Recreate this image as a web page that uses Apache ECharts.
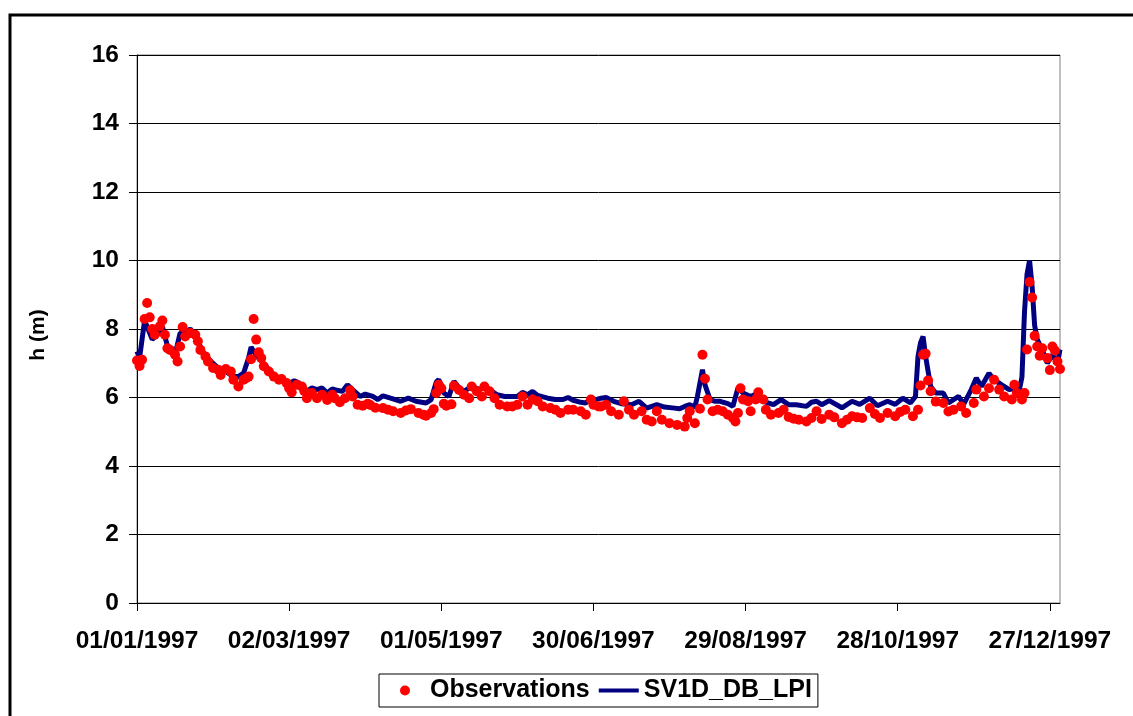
<!DOCTYPE html>
<html><head><meta charset="utf-8">
<script src="https://cdn.jsdelivr.net/npm/echarts@6/dist/echarts.min.js"></script>
<style>html,body{margin:0;padding:0;background:#fff}#c{width:1133px;height:716px}</style>
</head><body><div id="c"></div>
<script>
// Day offsets from 01/01/1997
const simDays = [0,1,3,6,8,10,12,14,15,17,19,21,23,25,27,30,32,35,38,40,42,44,45,46,48,51,54,56,59,62,64,67,69,71,73,75,77,79,81,83,85,88,90,93,95,97,100,104,107,110,114,116,117,118,119,121,123,125,127,129,132,135,137,139,142,145,148,150,152,154,156,158,162,165,168,170,172,175,177,179,181,183,185,188,191,195,198,201,205,208,212,214,216,218,220,221,223,224,226,228,230,233,235,237,239,242,245,247,251,254,257,260,264,266,268,270,273,278,282,285,289,292,296,299,302,305,307,308,309,310,311,313,315,318,320,324,326,329,331,333,336,338,341,344,347,348,349,350,351,352,353,354,355,357,359,361,363,364];
const simValues = [7.35,7.15,8.25,7.7,7.83,8.08,7.5,7.35,7.25,7.88,7.88,8.0,7.83,7.49,7.2,7.0,6.86,6.76,6.61,6.61,6.71,7.15,7.47,7.35,7.15,6.9,6.66,6.56,6.37,6.49,6.42,6.18,6.28,6.23,6.28,6.13,6.25,6.21,6.18,6.37,6.23,6.03,6.1,6.03,5.94,6.05,5.98,5.89,5.98,5.89,5.84,5.94,6.2,6.45,6.52,6.13,6.03,6.47,6.28,6.18,6.33,6.23,6.33,6.23,6.08,6.03,6.03,6.03,6.15,6.08,6.18,6.06,5.98,5.94,5.94,6.0,5.92,5.86,5.84,5.98,5.94,5.98,6.0,5.89,5.82,5.79,5.89,5.69,5.79,5.72,5.69,5.67,5.74,5.79,5.72,6.03,6.81,6.37,5.94,5.89,5.89,5.82,5.74,6.28,6.13,6.03,6.13,5.89,5.79,5.94,5.79,5.79,5.74,5.86,5.89,5.79,5.91,5.7,5.89,5.8,5.98,5.76,5.89,5.8,5.98,5.84,6.03,7.2,7.6,7.78,7.2,6.32,6.13,6.13,5.84,6.03,5.8,6.23,6.57,6.32,6.71,6.52,6.37,6.23,6.27,6.23,6.6,8.5,9.6,10.0,9.24,8.1,7.7,7.4,7.0,7.25,7.0,7.4];
const obsDays = [0,1,2,3,4,5,6,7,9,10,11,12,13,15,16,17,18,19,21,23,24,25,27,28,30,32,33,35,37,38,40,42,43,44,45,46,47,48,49,50,52,54,56,57,59,60,61,63,65,66,67,69,71,73,75,77,78,80,82,84,85,87,89,91,92,94,97,99,101,104,106,108,111,113,114,116,117,118,119,120,121,122,124,125,127,129,131,132,134,136,137,139,141,143,146,148,150,152,154,156,158,160,163,165,167,170,172,175,177,179,180,182,183,185,187,190,192,194,196,199,201,203,205,207,210,213,216,217,218,220,222,223,224,225,227,229,231,233,235,236,237,238,239,241,242,244,245,247,248,250,253,255,257,259,261,264,266,268,270,273,275,278,280,282,284,286,289,291,293,296,299,301,303,306,308,309,310,311,312,313,315,318,320,322,325,327,330,331,334,336,338,340,342,345,346,347,349,350,351,352,353,354,355,356,357,359,360,361,362,363,364];
const obsValues = [7.08,6.92,7.1,8.29,8.76,8.34,8.0,7.83,8.08,8.25,7.83,7.44,7.39,7.25,7.05,7.49,8.06,7.78,7.88,7.83,7.64,7.39,7.2,7.05,6.86,6.81,6.66,6.83,6.76,6.52,6.32,6.52,6.56,6.61,7.12,8.29,7.69,7.32,7.15,6.91,6.76,6.61,6.52,6.54,6.42,6.27,6.15,6.37,6.32,6.18,5.98,6.13,5.98,6.08,5.93,6.08,5.98,5.86,5.98,6.21,6.03,5.79,5.76,5.82,5.78,5.7,5.69,5.64,5.6,5.55,5.62,5.66,5.55,5.5,5.47,5.55,5.66,6.13,6.37,6.27,5.82,5.76,5.8,6.34,6.22,6.08,5.98,6.32,6.18,6.03,6.32,6.18,5.98,5.79,5.74,5.74,5.79,6.03,5.79,5.94,5.89,5.74,5.69,5.64,5.55,5.64,5.64,5.6,5.5,5.94,5.79,5.74,5.74,5.79,5.6,5.5,5.89,5.64,5.5,5.6,5.35,5.3,5.6,5.35,5.25,5.2,5.15,5.4,5.6,5.25,5.67,7.25,6.55,5.94,5.6,5.64,5.6,5.5,5.4,5.3,5.55,6.27,5.94,5.89,5.6,5.94,6.15,5.94,5.64,5.5,5.55,5.64,5.43,5.38,5.35,5.3,5.4,5.6,5.37,5.5,5.42,5.25,5.35,5.45,5.42,5.4,5.69,5.52,5.4,5.55,5.45,5.58,5.64,5.45,5.64,6.35,7.25,7.28,6.5,6.18,5.88,5.84,5.59,5.64,5.74,5.55,5.84,6.23,6.03,6.27,6.52,6.23,6.03,5.94,6.37,6.13,5.94,6.13,7.4,9.37,8.92,7.8,7.49,7.22,7.44,7.15,6.8,7.49,7.37,7.05,6.83];
const xTickDays = [0,60,120,180,240,300,360];
const seriesNames = ['Observations','SV1D_DB_LPI'];
const yAxisTitle = 'h (m)';

function fmtDay(d){
  const dt = new Date(Date.UTC(1997,0,1+Math.round(d)));
  const p = n => String(n).padStart(2,'0');
  return p(dt.getUTCDate())+'/'+p(dt.getUTCMonth()+1)+'/'+dt.getUTCFullYear();
}
const FONT = "'Liberation Sans', Arial, sans-serif";
const chart = echarts.init(document.getElementById('c'), null, {renderer:'canvas'});
chart.setOption({
  animation:false,
  backgroundColor:'#fff',
  graphic:[{type:'rect', shape:{x:10,y:15,width:1200,height:800}, style:{fill:'none',stroke:'#000',lineWidth:3}, z:100}],
  grid:{left:137, top:55, right:73, bottom:113, show:true, borderColor:'#808080', borderWidth:1, backgroundColor:'transparent'},
  legend:{
    left:379, top:674, orient:'horizontal',
    padding:[4,6,4,21], itemGap:9, itemWidth:40, itemHeight:10,
    borderColor:'#000', borderWidth:1, backgroundColor:'#fff',
    textStyle:{fontFamily:FONT, fontWeight:'bold', fontSize:25, color:'#000'},
    data:[
      {name:seriesNames[0], icon:'circle', itemStyle:{color:'#ff0000'}},
      {name:seriesNames[1], icon:'path://M0,0 L40,0 L40,4 L0,4 Z', itemStyle:{color:'#000080'}}
    ]
  },
  xAxis:{
    type:'value', min:0, max:364, interval:60,
    axisLine:{show:true, onZero:false, lineStyle:{color:'#000', width:1}},
    axisTick:{show:true, length:8, lineStyle:{color:'#000'}, customValues:xTickDays},
    axisLabel:{fontFamily:FONT, fontWeight:'bold', fontSize:24.5, color:'#000', margin:26, formatter:v=>fmtDay(v), customValues:xTickDays},
    splitLine:{show:false}
  },
  yAxis:{
    type:'value', min:0, max:16, interval:2,
    name:yAxisTitle, nameLocation:'middle', nameGap:88, nameRotate:90,
    nameTextStyle:{fontFamily:FONT, fontWeight:'bold', fontSize:21, color:'#000', padding:[0,0,0,-12]},
    axisLine:{show:true, lineStyle:{color:'#000', width:1}},
    axisTick:{show:true, length:8, lineStyle:{color:'#000'}},
    axisLabel:{fontFamily:FONT, fontWeight:'bold', fontSize:24.5, color:'#000', margin:18},
    splitLine:{show:true, lineStyle:{color:'#000', width:1}}
  },
  series:[
    {name:seriesNames[1], type:'line', data:simDays.map((d,i)=>[d,simValues[i]]), showSymbol:false, symbol:'none',
     lineStyle:{color:'#000080', width:5}, itemStyle:{color:'#000080'}, z:2},
    {name:seriesNames[0], type:'scatter', data:obsDays.map((d,i)=>[d,obsValues[i]]), symbol:'circle', symbolSize:10,
     itemStyle:{color:'#ff0000', opacity:1}, z:3}
  ]
});
</script></body></html>
